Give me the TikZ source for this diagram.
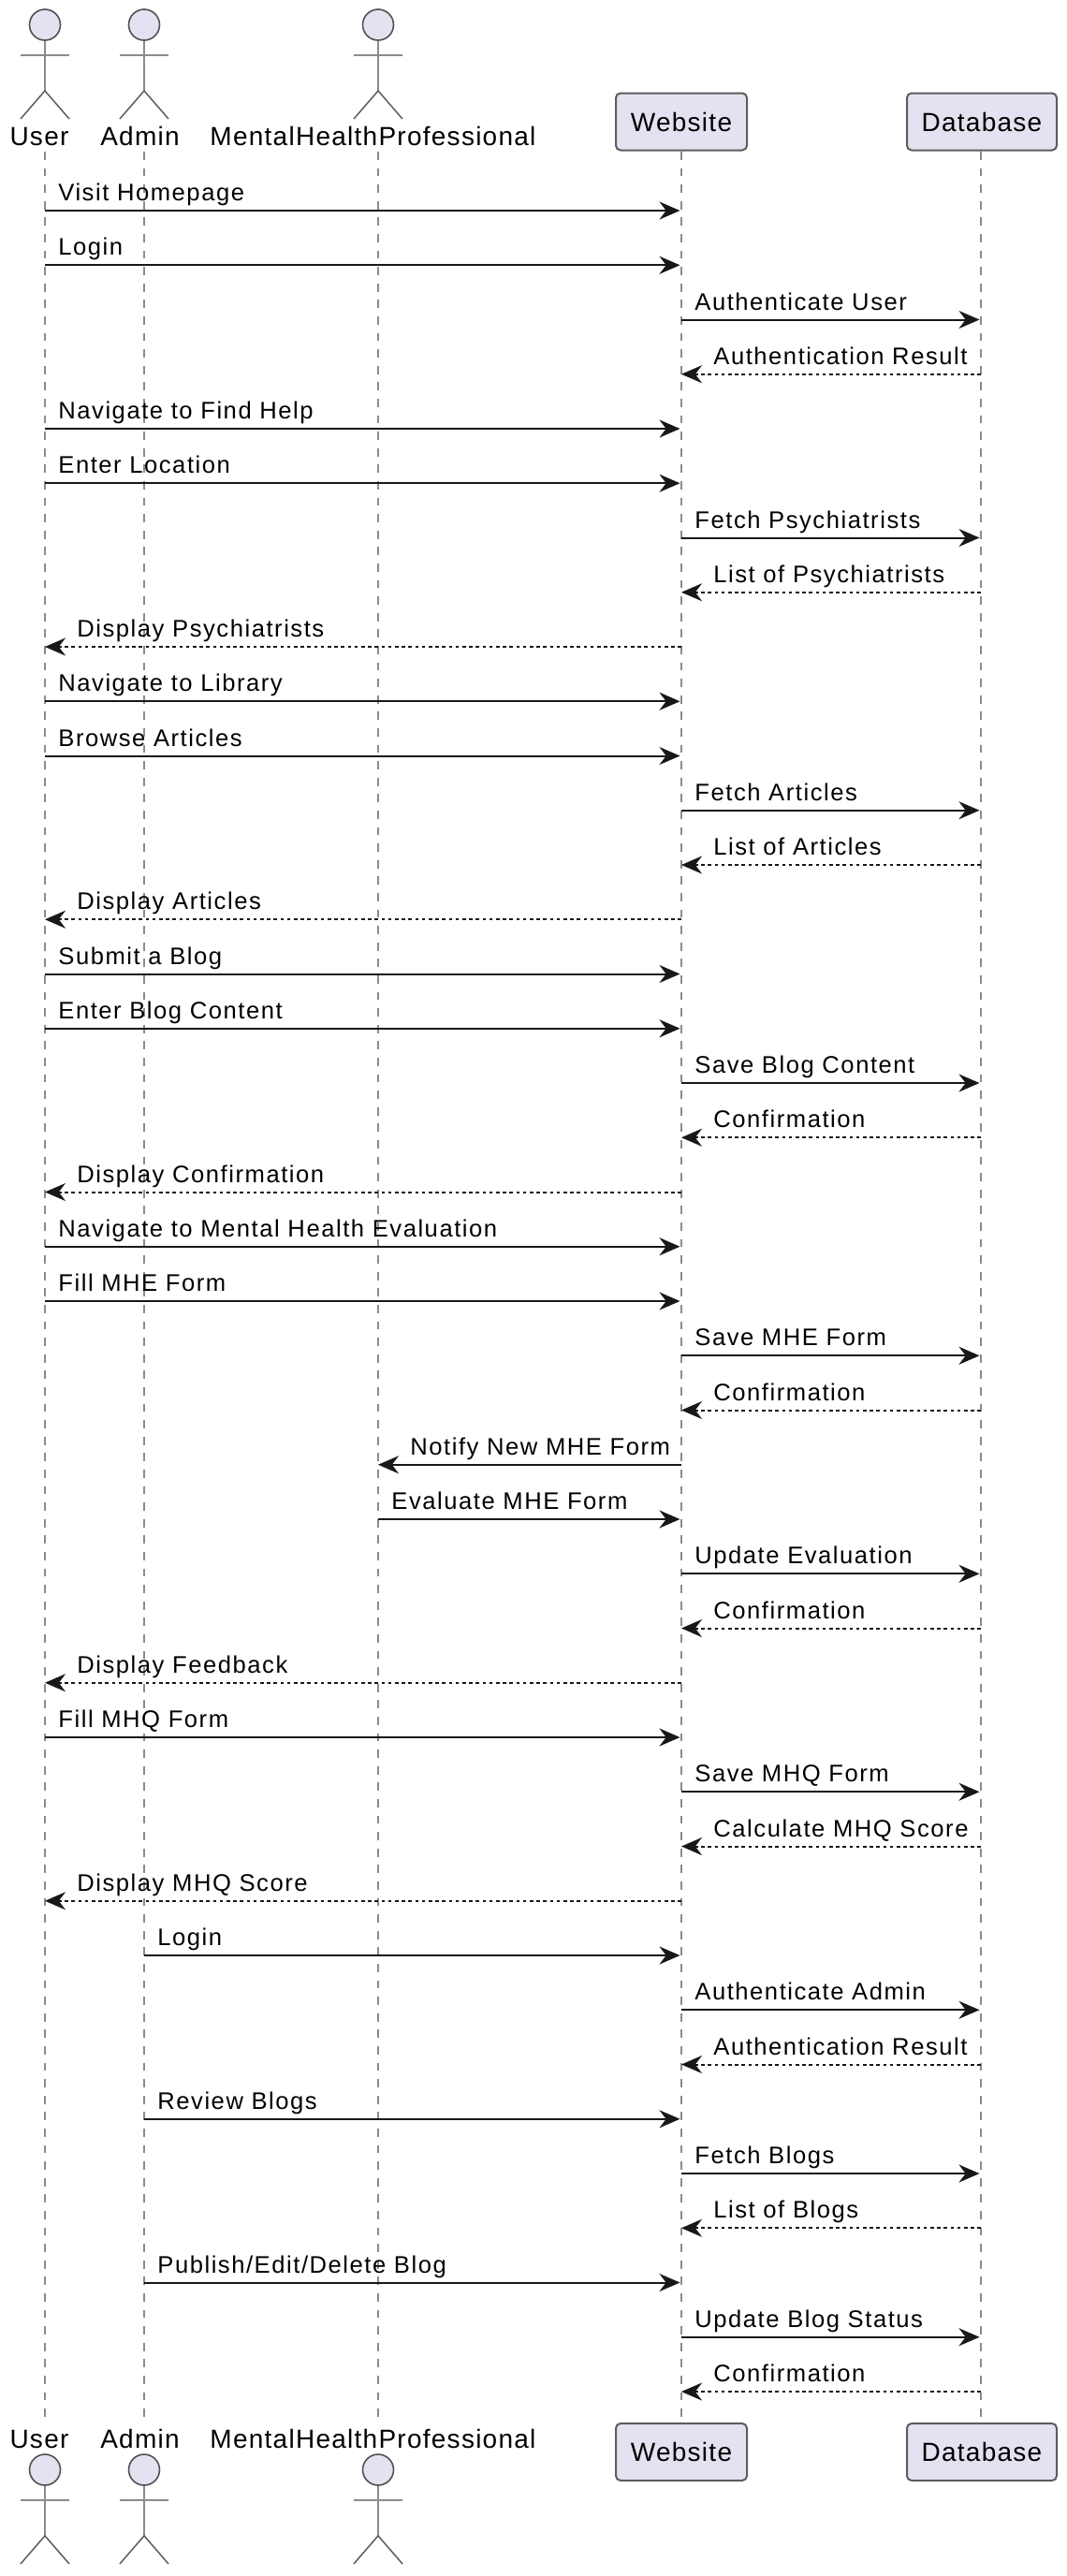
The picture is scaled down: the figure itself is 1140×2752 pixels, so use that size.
\documentclass[tikz,border=0pt]{standalone}
\usepackage{fontspec}
\setmainfont{Liberation Sans}
\newfontfamily\msgfont[LetterSpace=6]{Liberation Sans}
\newfontfamily\namefont[LetterSpace=4.5]{Liberation Sans}
\usetikzlibrary{arrows.meta}
\definecolor{partfill}{HTML}{E2E2F0}
\definecolor{partline}{HTML}{181818}
\tikzset{
  lifeline/.style={partline!50, line width=1pt, dash pattern=on 4.4pt off 4.4pt},
  msgtip/.style={-{Stealth[length=11pt, width=9.5pt, inset=3.6pt]}},
  call/.style={msgtip, partline, line width=1pt},
  reply/.style={msgtip, partline, line width=1pt, dash pattern=on 1.8pt off 1.8pt},
  msglabel/.style={anchor=base west, inner sep=0pt, font=\msgfont\fontsize{12.8pt}{15pt}\selectfont},
  namelabel/.style={anchor=base, inner sep=0pt, font=\namefont\fontsize{14pt}{16pt}\selectfont},
  partbox/.style={draw=partline!70, fill=partfill, line width=1pt, rounded corners=2.5pt,
    minimum height=30.5pt, inner sep=0pt, font=\namefont\fontsize{14pt}{16pt}\selectfont},
  actorhead/.style={draw=partline!75, fill=partfill, line width=0.8pt},
  actorbody/.style={draw=partline!50, line width=1pt},
  actorlegs/.style={draw=partline!70, line width=0.75pt}
}
\begin{document}
\begin{tikzpicture}[x=0.5pt, y=-0.5pt]

  \useasboundingbox (0,0) rectangle (1140,2752);

  % The lifeline positions
  \def \xU {48}
  \def \xA {154}
  \def \xM {404}
  \def \xW {728}
  \def \xD {1048}
  \def \yTop {162}
  \def \yBot {2589}
  \def \rowFirst {225}
  \def \rowStep {58.25}

  % Lifelines
  \foreach \part/\xPart in {User/\xU, Admin/\xA, Mental/\xM, Website/\xW, Database/\xD} {
    \coordinate (\part Top) at (\xPart, \yTop);
    \coordinate (\part Bot) at (\xPart, \yBot);
    \draw[lifeline] (\part Top) -- (\part Bot);
  }

  % Actors, top and bottom
  \foreach \xPart in {\xU, \xA, \xM} {
    \foreach \yPart in {10, 2622} {
      \draw[actorbody] (\xPart, \yPart +33) -- (\xPart, \yPart +87);
      \draw[actorbody] (\xPart -26, \yPart +49) -- (\xPart +26, \yPart +49);
      \draw[actorlegs] (\xPart -26, \yPart +117) -- (\xPart, \yPart +87) -- (\xPart +26, \yPart +117);
      \draw[actorhead] (\xPart, \yPart +16.5) circle (16.5);
    }
  }

  % Actor names
  \foreach \yName/\where in {155/Upper, 2615/Lower} {
    \node[namelabel] (UserName\where) at (42, \yName) {User};
    \node[namelabel] (AdminName\where) at (149.5, \yName) {Admin};
    \node[namelabel] (MentalName\where) at (398.5, \yName) {MentalHealthProfessional};
  }

  % Boxes
  \foreach \yBox/\where in {130/Upper, 2619.5/Lower} {
    \node[partbox, minimum width=70pt] (WebsiteBox\where) at (728, \yBox) {Website};
    \node[partbox, minimum width=80pt] (DatabaseBox\where) at (1049, \yBox) {Database};
  }

  % Messages
  \foreach \src/\dst/\kind/\txt [count=\k from 0] in {
    U/W/call/Visit Homepage,
    U/W/call/Login,
    W/D/call/Authenticate User,
    D/W/reply/Authentication Result,
    U/W/call/Navigate to Find Help,
    U/W/call/Enter Location,
    W/D/call/Fetch Psychiatrists,
    D/W/reply/List of Psychiatrists,
    W/U/reply/Display Psychiatrists,
    U/W/call/Navigate to Library,
    U/W/call/Browse Articles,
    W/D/call/Fetch Articles,
    D/W/reply/List of Articles,
    W/U/reply/Display Articles,
    U/W/call/Submit a Blog,
    U/W/call/Enter Blog Content,
    W/D/call/Save Blog Content,
    D/W/reply/Confirmation,
    W/U/reply/Display Confirmation,
    U/W/call/Navigate to Mental Health Evaluation,
    U/W/call/Fill MHE Form,
    W/D/call/Save MHE Form,
    D/W/reply/Confirmation,
    W/M/call/Notify New MHE Form,
    M/W/call/Evaluate MHE Form,
    W/D/call/Update Evaluation,
    D/W/reply/Confirmation,
    W/U/reply/Display Feedback,
    U/W/call/Fill MHQ Form,
    W/D/call/Save MHQ Form,
    D/W/reply/Calculate MHQ Score,
    W/U/reply/Display MHQ Score,
    A/W/call/Login,
    W/D/call/Authenticate Admin,
    D/W/reply/Authentication Result,
    A/W/call/Review Blogs,
    W/D/call/Fetch Blogs,
    D/W/reply/List of Blogs,
    A/W/call/{Publish/Edit/Delete Blog},
    W/D/call/Update Blog Status,
    D/W/reply/Confirmation} {
    \pgfmathsetmacro \yMsg {\rowFirst + \rowStep*\k}
    \pgfmathsetmacro \xFrom {\csname x\src\endcsname}
    \pgfmathsetmacro \xTo {\csname x\dst\endcsname}
    % the tip stops just short of the lifeline when it goes right
    \pgfmathsetmacro \xEnd {\xFrom < \xTo ? \xTo -1.5 : \xTo}
    \pgfmathsetmacro \xTxt {\xFrom < \xTo ? \xFrom +14 : \xTo +34}
    \coordinate (msgFrom\k) at (\xFrom, \yMsg);
    \coordinate (msgTo\k) at (\xEnd, \yMsg);
    \draw[\kind] (msgFrom\k) -- (msgTo\k);
    \node[msglabel] (msgText\k) at (\xTxt, \yMsg -10.5) {\txt};
  }

\end{tikzpicture}
\end{document}
